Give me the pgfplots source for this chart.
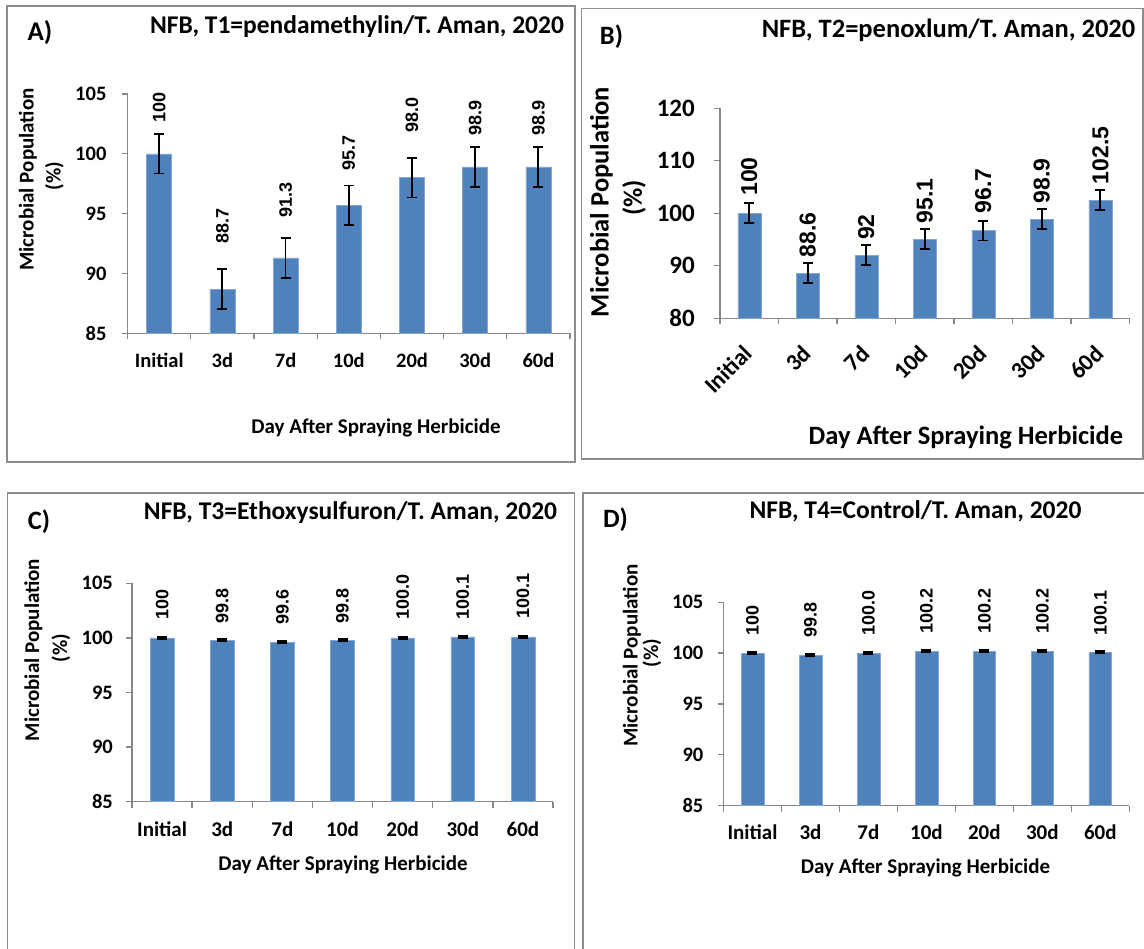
\documentclass[border=0pt]{standalone}
\usepackage{fontspec}
\setmainfont{Carlito}
\newfontfamily\labfont{Liberation Sans}
\usepackage{pgfplots}
\usepackage{pgfplotstable}
\pgfplotsset{compat=1.18}
\definecolor{barblue}{HTML}{4F81BD}
\definecolor{axisgray}{HTML}{868686}
\definecolor{framegray}{HTML}{8C8C8C}
\newcommand{\fs}[1]{\fontsize{#1}{#1}\selectfont}

\pgfplotstableread{
x y e ly lab
0 100 1.65 102.6 100
1 88.7 1.65 92.46 88.7
2 91.3 1.65 94.7 91.3
3 95.7 1.65 98.6 95.7
4 98.0 1.65 101.75 98.0
5 98.9 1.65 101.5 98.9
6 98.9 1.65 101.5 98.9
}\tabA
\pgfplotstableread{
x y e ly lab
0 100 1.9 103.3 100
1 88.6 1.9 91.6 88.6
2 92 1.9 94.9 92
3 95.1 1.9 98.1 95.1
4 96.7 1.9 100 96.7
5 98.9 1.9 101.9 98.9
6 102.5 1.9 105.5 102.5
}\tabB
\pgfplotstableread{
x y e ly lab
0 100 0.1 101.67 100
1 99.8 0.1 101.3 99.8
2 99.6 0.1 101.2 99.6
3 99.8 0.1 101.3 99.8
4 100.0 0.1 101.67 100.0
5 100.1 0.1 101.67 100.1
6 100.1 0.1 101.8 100.1
}\tabC
\pgfplotstableread{
x y e ly lab
0 100 0.1 101.7 100
1 99.8 0.1 101.47 99.8
2 100.0 0.1 101.7 100.0
3 100.2 0.1 101.9 100.2
4 100.2 0.1 101.9 100.2
5 100.2 0.1 101.9 100.2
6 100.1 0.1 101.7 100.1
}\tabD

\pgfplotsset{
  panel/.style={
    scale only axis, anchor=south west,
    xmin=-0.5, xmax=6.5,
    axis x line*=bottom, axis y line*=left,
    axis line style={draw=axisgray, line width=1.3pt},
    tick align=outside, major tick length=6pt, minor tick length=6pt,
    xtick={0,...,6}, xticklabels={Initial,3d,7d,10d,20d,30d,60d},
    minor xtick={-0.5,0.5,...,6.5},
    major x tick style={draw=none},
    minor x tick style={draw=axisgray, line width=1.3pt},
    ytick style={draw=axisgray, line width=1.3pt},
    clip=false,
    /pgf/number format/assume math mode=true,
  },
  bars/.style={ybar, bar width=#1, fill=barblue, draw=barblue!70!white, line width=0.5pt,
    error bars/.cd, y dir=both, y explicit,
    error bar style={black, line width=1.8pt},
    error mark options={black, line width=1.8pt, mark size=5pt, rotate=90}},
  labs/.style={draw=none, mark=none, nodes near coords, point meta=explicit symbolic,
    nodes near coords style={rotate=90, anchor=west, inner sep=0pt, font=\labfont\bfseries\fs{#1}, text=black}},
}

\begin{document}
\begin{tikzpicture}[x=1pt,y=1pt]
\useasboundingbox (0,0) rectangle (1144,949);
% frames
\draw[framegray, line width=1.2pt] (7,487) rectangle (575,943);
\draw[framegray, line width=1.2pt] (581.6,490) rectangle (1143,940.7);
\draw[framegray, line width=1.2pt] (7.4,-10) rectangle (574.5,456);
\draw[framegray, line width=1.2pt] (583,-10) rectangle (1160,456);

% Panel A
\begin{axis}[panel, at={(127.6pt,615.7pt)}, width=442.4pt, height=239.3pt,
  ymin=85, ymax=105, ytick={85,90,95,100,105},
  yticklabel style={font=\bfseries\fs{20.5}, anchor=east, inner sep=0pt, xshift=-15pt},
  xticklabel style={font=\bfseries\fs{20.5}, anchor=base, inner sep=0pt, yshift=-28pt}]
\addplot[bars=25pt] table[x=x, y=y, y error=e] {\tabA};
\addplot[labs=18] table[x=x, y=ly, meta=lab] {\tabA};
\end{axis}

% Panel B
\begin{axis}[panel, at={(720pt,630.7pt)}, width=409.6pt, height=210pt,
  ymin=80, ymax=120, ytick={80,90,100,110,120},
  yticklabel style={font=\bfseries\fs{25}, anchor=east, inner sep=0pt, xshift=-19pt},
  xticklabel style={font=\bfseries\fs{23.5}, xshift=-1pt, yshift=-25pt, rotate=45, anchor=east, inner sep=0pt}]
\addplot[bars=23pt] table[x=x, y=y, y error=e] {\tabB};
\addplot[labs=23] table[x=x, y=ly, meta=lab] {\tabB};
\end{axis}

% Panel C
\begin{axis}[panel, at={(132pt,147.3pt)}, width=421pt, height=218.4pt,
  ymin=85, ymax=105, ytick={85,90,95,100,105},
  yticklabel style={font=\bfseries\fs{20.5}, anchor=east, inner sep=0pt, xshift=-13pt},
  xticklabel style={font=\bfseries\fs{21}, anchor=base, inner sep=0pt, yshift=-29pt}]
\addplot[bars=23.7pt] table[x=x, y=y, y error=e] {\tabC};
\addplot[labs=18] table[x=x, y=ly, meta=lab] {\tabC};
\end{axis}

% Panel D
\begin{axis}[panel, at={(723.5pt,143.3pt)}, width=405.8pt, height=203.4pt,
  ymin=85, ymax=105, ytick={85,90,95,100,105},
  yticklabel style={font=\bfseries\fs{20.5}, anchor=east, inner sep=0pt, xshift=-14pt},
  xticklabel style={font=\bfseries\fs{21}, anchor=base, inner sep=0pt, yshift=-28pt}]
\addplot[bars=22.7pt] table[x=x, y=y, y error=e] {\tabD};
\addplot[labs=18] table[x=x, y=ly, meta=lab] {\tabD};
\end{axis}

% titles and labels
\begin{scope}[every node/.style={inner sep=0pt}]
\node[font=\bfseries\fs{25.5}] at (357,922) {NFB, T1=pendamethylin/T. Aman, 2020};
\node[font=\bfseries\fs{26.5}] at (948.5,919) {NFB, T2=penoxlum/T. Aman, 2020};
\node[font=\bfseries\fs{25.5}] at (350.5,436) {NFB, T3=Ethoxysulfuron/T. Aman, 2020};
\node[font=\bfseries\fs{25.5}] at (915.5,437.3) {NFB, T4=Control/T. Aman, 2020};
\node[font=\bfseries\fs{27}] at (40,916) {A)};
\node[font=\bfseries\fs{26.5}] at (611.5,912) {B)};
\node[font=\bfseries\fs{26.5}] at (39,427.3) {C)};
\node[font=\bfseries\fs{26.5}] at (615.5,429) {D)};
\node[font=\bfseries\fs{21}] at (376,521) {Day After Spraying Herbicide};
\node[font=\bfseries\fs{26.5}] at (966,511.3) {Day After Spraying Herbicide};
\node[font=\bfseries\fs{21}] at (343,84) {Day After Spraying Herbicide};
\node[font=\bfseries\fs{21}] at (925.5,80.7) {Day After Spraying Herbicide};
\node[font=\bfseries\fs{21}, rotate=90] at (28,769.5) {Microbial Population};
\node[font=\bfseries\fs{21}, rotate=90] at (54.5,773) {(\%)};
\node[font=\bfseries\fs{26.5}, rotate=90] at (601.5,747) {Microbial Population};
\node[font=\bfseries\fs{26.5}, rotate=90] at (634,751) {(\%)};
\node[font=\bfseries\fs{21}, rotate=90] at (33.3,299) {Microbial Population};
\node[font=\bfseries\fs{21}, rotate=90] at (61,301) {(\%)};
\node[font=\bfseries\fs{21}, rotate=90] at (632,293.5) {Microbial Population};
\node[font=\bfseries\fs{21}, rotate=90] at (652,296) {(\%)};
\end{scope}
\end{tikzpicture}
\end{document}
